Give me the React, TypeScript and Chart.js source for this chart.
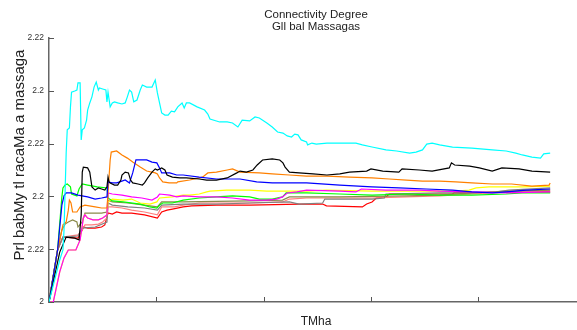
import { useEffect, useRef } from 'react';
import { Chart, registerables } from 'chart.js';

Chart.register(...registerables);

const FONT = '"Liberation Sans", Arial, Helvetica, sans-serif';

const chartTitle = ['Connectivity Degree', 'Gll bal Massagas'];
const xAxisTitle = 'TMha';
const yAxisTitle = 'Prl babMy tl racaMa a massaga';

const yTickValues = [0, 0.2, 0.4, 0.6, 0.8, 1];
const yTickLabels = ['2', '2.22', '2.2', '2.22', '2.2', '2.22'];
const xTickValues = [100, 200, 300, 400];
const timeMax = 492;

// [time, probability] pairs for each run
const cyanRun = [[0,0],[10,0.159],[13,0.197],[14,0.273],[16,0.564],[17,0.652],[19,0.659],[20,0.739],[21,0.795],[24,0.799],[26,0.803],[27,0.83],[29,0.83],[30,0.614],[31,0.652],[33,0.659],[35,0.689],[36,0.727],[38,0.754],[40,0.777],[42,0.814],[44,0.833],[46,0.803],[47,0.811],[50,0.807],[53,0.803],[54,0.758],[55,0.795],[57,0.739],[59,0.754],[61,0.758],[64,0.754],[68,0.75],[71,0.754],[73,0.777],[75,0.803],[77,0.795],[79,0.758],[82,0.765],[85,0.803],[87,0.822],[91,0.814],[96,0.814],[99,0.841],[101,0.792],[105,0.716],[108,0.708],[111,0.708],[114,0.723],[117,0.72],[120,0.739],[124,0.754],[126,0.735],[128,0.754],[131,0.754],[138,0.739],[145,0.727],[148,0.712],[150,0.693],[159,0.682],[166,0.682],[171,0.678],[176,0.663],[180,0.689],[187,0.686],[192,0.701],[196,0.697],[203,0.678],[208,0.663],[213,0.644],[218,0.64],[222,0.629],[226,0.625],[229,0.636],[232,0.633],[235,0.614],[240,0.606],[241,0.595],[245,0.602],[249,0.598],[259,0.602],[271,0.602],[286,0.602],[292,0.595],[301,0.587],[314,0.576],[324,0.572],[336,0.564],[342,0.568],[348,0.576],[352,0.598],[357,0.602],[364,0.595],[376,0.587],[394,0.583],[413,0.576],[426,0.572],[435,0.564],[441,0.557],[450,0.549],[458,0.545],[461,0.561],[467,0.564]];

const blackRun = [[0,0],[10,0.189],[16,0.246],[24,0.242],[28,0.235],[30,0.33],[31,0.492],[32,0.511],[36,0.508],[38,0.492],[40,0.436],[43,0.424],[46,0.432],[49,0.428],[52,0.424],[54,0.436],[55,0.473],[56,0.455],[57,0.451],[61,0.443],[64,0.443],[67,0.462],[68,0.481],[71,0.492],[74,0.489],[76,0.462],[78,0.451],[83,0.447],[87,0.443],[89,0.451],[92,0.47],[96,0.492],[99,0.504],[101,0.5],[105,0.508],[108,0.5],[110,0.481],[115,0.473],[122,0.47],[128,0.47],[140,0.466],[147,0.462],[156,0.462],[166,0.47],[175,0.489],[178,0.496],[184,0.492],[190,0.5],[194,0.519],[199,0.538],[208,0.542],[215,0.538],[218,0.527],[220,0.511],[224,0.492],[233,0.489],[246,0.485],[259,0.481],[271,0.485],[280,0.492],[296,0.496],[300,0.504],[311,0.496],[326,0.492],[329,0.504],[345,0.5],[357,0.496],[373,0.508],[375,0.527],[378,0.519],[392,0.515],[401,0.508],[413,0.496],[422,0.508],[438,0.504],[450,0.496],[467,0.492]];

const orangeRun = [[0,0],[8,0.197],[13,0.292],[16,0.303],[18,0.348],[19,0.386],[20.5,0.375],[22,0.341],[26,0.341],[29,0.36],[33.5,0.367],[43,0.36],[49,0.356],[54,0.356],[55,0.413],[57,0.538],[58,0.568],[63,0.572],[68,0.557],[73,0.545],[78,0.53],[85,0.511],[91,0.496],[99,0.489],[101,0.485],[103,0.47],[106,0.455],[112,0.451],[119,0.451],[120,0.455],[131,0.462],[140,0.47],[143,0.473],[148,0.489],[156,0.492],[166,0.5],[171,0.504],[178,0.492],[196,0.489],[208,0.485],[224,0.481],[240,0.477],[259,0.477],[280,0.473],[301,0.47],[317,0.466],[333,0.462],[348,0.458],[364,0.458],[379,0.455],[394,0.451],[413,0.447],[431,0.447],[450,0.439],[466,0.443],[467,0.451]];

const blueRun = [[0,0],[8,0.197],[12,0.367],[14,0.402],[16,0.413],[21,0.413],[27,0.405],[36,0.398],[43,0.39],[49,0.394],[54,0.398],[55,0.455],[59,0.451],[63,0.451],[66,0.455],[71,0.462],[75,0.451],[78,0.489],[81,0.538],[85,0.538],[91,0.538],[96,0.53],[100.5,0.527],[103,0.508],[105,0.489],[112.5,0.489],[119,0.481],[125,0.481],[140,0.473],[156,0.466],[178,0.466],[193.5,0.455],[208,0.451],[240,0.451],[271,0.443],[301,0.436],[326,0.432],[351.5,0.428],[376,0.424],[394,0.417],[413,0.413],[426,0.417],[444.5,0.424],[467,0.428]];

const greenRun = [[0,0],[8,0.197],[12,0.398],[13,0.432],[15,0.443],[17,0.447],[20,0.436],[21,0.409],[26,0.402],[28,0.428],[31,0.447],[36,0.443],[45,0.436],[54,0.432],[55,0.394],[59,0.383],[69,0.379],[85,0.371],[94,0.36],[100.5,0.356],[103,0.367],[106,0.375],[115,0.375],[125,0.386],[140,0.394],[156,0.398],[171,0.402],[187,0.398],[196,0.39],[208,0.39],[217.6,0.398],[221,0.413],[240,0.413],[271,0.409],[301,0.405],[333,0.409],[364,0.405],[394,0.405],[426,0.409],[441,0.413],[467,0.413]];

const yellowRun = [[0,0],[4,0],[10,0.114],[14,0.167],[18,0.197],[25,0.197],[29,0.235],[32,0.318],[33.5,0.33],[36,0.318],[41,0.311],[46,0.311],[50,0.318],[54,0.33],[55,0.379],[59,0.39],[69,0.386],[77,0.39],[85,0.375],[94,0.371],[100.5,0.379],[103,0.394],[115,0.398],[125,0.405],[131,0.405],[140,0.409],[147,0.417],[150,0.42],[165.5,0.424],[187,0.424],[203,0.42],[224,0.42],[240,0.42],[258.5,0.424],[301,0.42],[379,0.42],[391.5,0.424],[398,0.432],[410,0.436],[441,0.436],[467,0.439]];

const magentaRun = [[0,0],[4,0],[10,0.114],[14,0.167],[18,0.197],[25,0.197],[29,0.235],[32,0.318],[33.5,0.33],[36,0.318],[41,0.311],[46,0.311],[50,0.318],[54,0.33],[55,0.413],[59,0.409],[68,0.405],[77,0.398],[86.5,0.394],[96,0.386],[101,0.398],[103,0.409],[112.5,0.405],[119,0.398],[125,0.402],[140,0.398],[156,0.398],[171,0.394],[187,0.386],[203,0.386],[212,0.39],[217.6,0.398],[222,0.413],[231,0.417],[240,0.424],[271,0.42],[286,0.417],[291,0.428],[314,0.424],[345,0.424],[364,0.42],[394,0.417],[426,0.413],[467,0.417]];

const pinkRun = [[0,0],[8,0.197],[13,0.246],[27,0.254],[31,0.273],[33.5,0.292],[40,0.292],[46,0.295],[50,0.303],[54,0.318],[55,0.36],[59,0.36],[68,0.356],[77,0.348],[89,0.341],[101,0.33],[105,0.36],[117,0.36],[125,0.367],[140,0.375],[187,0.375],[217.6,0.379],[224,0.39],[240,0.394],[271,0.394],[301,0.394],[333,0.398],[364,0.402],[394,0.409],[428.7,0.417],[467,0.424]];

const redRun = [[0,0],[8,0.197],[13,0.246],[27,0.242],[31,0.273],[32,0.284],[36,0.28],[43,0.28],[49,0.284],[52,0.292],[55,0.337],[59,0.333],[63,0.341],[68,0.337],[77,0.337],[89,0.33],[101,0.318],[105,0.341],[110,0.348],[115,0.352],[125,0.36],[133,0.364],[156,0.367],[187,0.367],[233,0.371],[255,0.371],[258.5,0.364],[292,0.36],[296,0.371],[301,0.379],[305,0.394],[314,0.398],[317,0.409],[375.7,0.409],[377.6,0.413],[467,0.417]];

const grayRun = [[0,0],[8,0.197],[13,0.246],[27,0.25],[31,0.28],[43,0.284],[54,0.303],[55,0.375],[59,0.367],[73.5,0.36],[89,0.356],[101,0.348],[105,0.367],[125,0.371],[156,0.371],[187,0.375],[224,0.379],[233,0.371],[255,0.375],[257,0.39],[301,0.39],[312.5,0.394],[314,0.409],[363.6,0.413],[391.5,0.413],[416.6,0.417],[428.7,0.424],[467,0.432]];

const oliveRun = [[0,0],[8,0.197],[12,0.273],[15,0.295],[18,0.303],[22,0.311],[26,0.303],[27,0.284],[31,0.303],[33.5,0.337],[40,0.337],[49,0.337],[54,0.341],[55,0.386],[59,0.379],[73.5,0.375],[89,0.367],[101,0.36],[105,0.379],[125,0.379],[187,0.383],[217.6,0.386],[224,0.398],[271,0.398],[333,0.402],[364,0.405],[394,0.413],[428.7,0.42],[467,0.424]];

// first entry is drawn on top
const runs = [
  { data: cyanRun, color: '#00ffff' },
  { data: blackRun, color: '#000000' },
  { data: blueRun, color: '#0000ff' },
  { data: orangeRun, color: '#ff8000' },
  { data: magentaRun, color: '#ff00ff' },
  { data: greenRun, color: '#00ff00' },
  { data: yellowRun, color: '#ffff00' },
  { data: oliveRun, color: '#8a8a4a' },
  { data: grayRun, color: '#808080' },
  { data: pinkRun, color: '#ff7f7f' },
  { data: redRun, color: '#ff0000' },
];

const axisDecor = {
  id: 'axisDecor',
  afterDatasetsDraw(chart: any) {
    const { ctx, chartArea, scales } = chart;
    ctx.save();
    ctx.strokeStyle = '#555';
    ctx.lineWidth = 1;
    for (const v of xTickValues) {
      const px = Math.round(scales.x.getPixelForValue(v)) + 0.5;
      ctx.beginPath();
      ctx.moveTo(px, chartArea.bottom);
      ctx.lineTo(px, chartArea.bottom - 5);
      ctx.stroke();
    }
    for (const v of yTickValues) {
      const py = Math.round(scales.y.getPixelForValue(v)) + 0.5;
      ctx.beginPath();
      ctx.moveTo(chartArea.left, py);
      ctx.lineTo(chartArea.left + 5, py);
      ctx.stroke();
    }
    const cx = (chartArea.left + chartArea.right) / 2 + 3;
    ctx.fillStyle = '#222';
    ctx.textAlign = 'center';
    ctx.textBaseline = 'middle';
    ctx.font = `11.5px ${FONT}`;
    ctx.fillText(chartTitle[0], cx, 15);
    ctx.fillText(chartTitle[1], cx, 27);
    ctx.font = `12px ${FONT}`;
    ctx.fillText(xAxisTitle, cx, 322);
    ctx.translate(20, 155);
    ctx.rotate(-Math.PI / 2);
    ctx.font = `15px ${FONT}`;
    ctx.fillText(yAxisTitle, 0, 0);
    ctx.restore();
  },
};

export default function App() {
  const canvasRef = useRef<HTMLCanvasElement | null>(null);

  useEffect(() => {
    const canvas = canvasRef.current;
    if (!canvas) return;
    const chart = new Chart(canvas, {
      type: 'line',
      data: {
        datasets: runs.map((r) => ({
          data: r.data.map(([t, p]) => ({ x: t, y: p })),
          borderColor: r.color,
          backgroundColor: r.color,
          borderWidth: 1.2,
          pointRadius: 0,
          tension: 0,
          fill: false,
        })),
      },
      options: {
        animation: false,
        responsive: false,
        devicePixelRatio: 1,
        layout: { padding: { top: 38, left: 0, right: 0, bottom: 0 } },
        plugins: {
          legend: { display: false },
          tooltip: { enabled: false },
          title: { display: false },
        },
        scales: {
          x: {
            type: 'linear',
            min: 0,
            max: timeMax,
            ticks: { display: false, stepSize: 100 },
            grid: { display: true, drawOnChartArea: false, drawTicks: false },
            border: { display: true, color: '#666', width: 1.5 },
            afterFit: (s: any) => { s.height = 28; },
          },
          y: {
            type: 'linear',
            min: 0,
            max: 1,
            afterBuildTicks: (s: any) => { s.ticks = yTickValues.map((v) => ({ value: v })); },
            ticks: {
              padding: 5,
              color: '#333',
              font: { family: FONT, size: 8.5 },
              callback: (_v: any, i: number) => yTickLabels[i],
            },
            grid: { display: true, drawOnChartArea: false, drawTicks: false },
            border: { display: true, color: '#666', width: 1.5 },
            afterFit: (s: any) => { s.width = 49; },
          },
        },
      },
      plugins: [axisDecor],
    });
    return () => chart.destroy();
  }, []);

  return (
    <div style={{ position: 'fixed', left: 0, top: 0, width: 577, height: 330, background: '#fff' }}>
      <canvas ref={canvasRef} width={577} height={330} />
    </div>
  );
}
